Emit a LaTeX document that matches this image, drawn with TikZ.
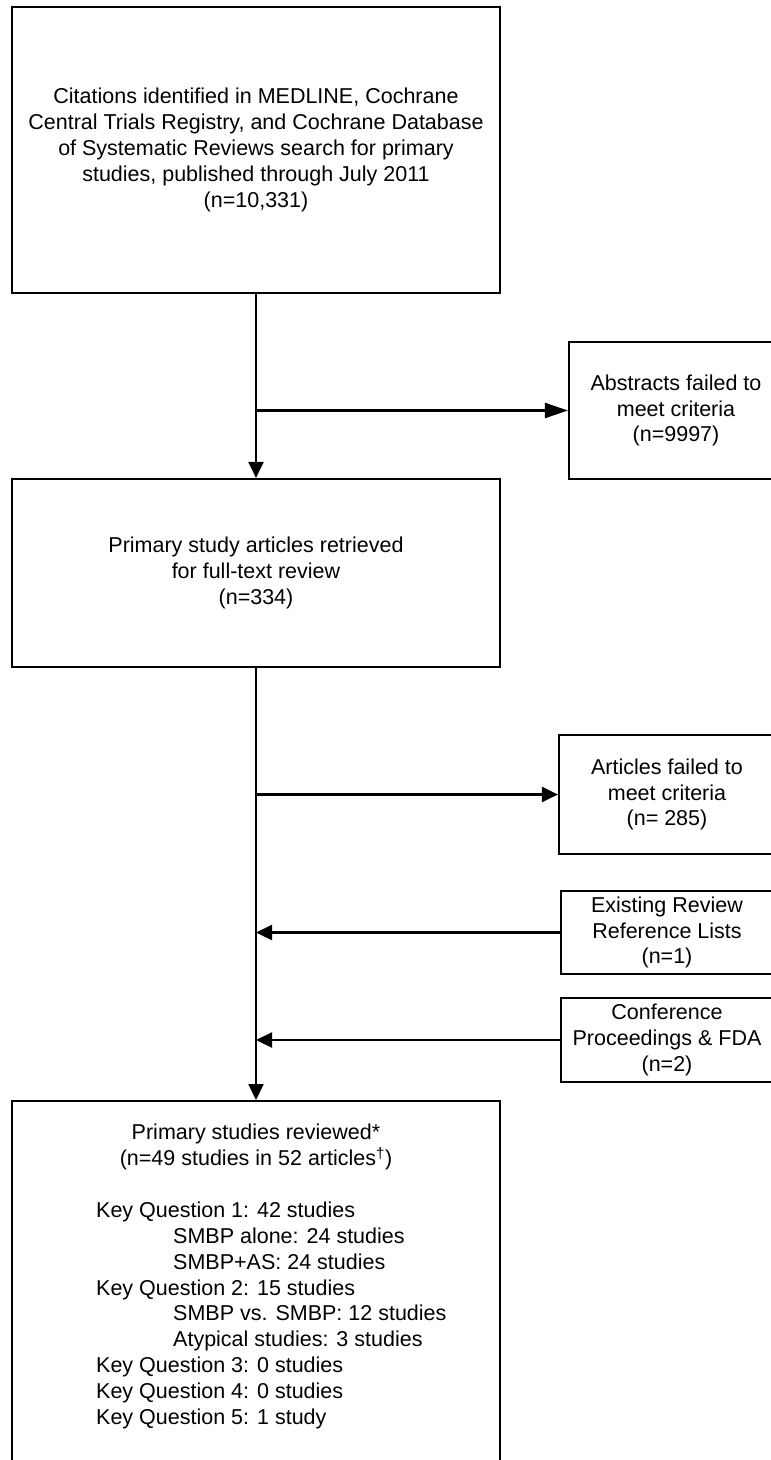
\documentclass[tikz,border=0pt]{standalone}
\usepackage{fontspec}
\setmainfont{Liberation Sans}
\usetikzlibrary{positioning,arrows.meta}

\begin{document}
\begin{tikzpicture}[x=1pt,y=1pt,on grid,
  every node/.style={font=\fontsize{21.5}{25.8}\selectfont,inner sep=0pt},
  box/.style={draw,line width=2.2pt,align=center},
  arr/.style={line width=2.2pt,-{Triangle[length=16pt,width=15pt]}},
  longarr/.style={line width=2.2pt,-{Triangle[length=23pt,width=15pt]}}]
\useasboundingbox (0,0) rectangle (771,-1460);
\node[box,minimum width=488pt,minimum height=286pt] (cite) at (256,-150) {Citations identified in MEDLINE, Cochrane\\Central Trials Registry, and Cochrane Database\\of Systematic Reviews search for primary\\studies, published through July 2011\\(n=10,331)};
\node[box,minimum width=488pt,minimum height=188pt] (ret) [below=423pt of cite] {Primary study articles retrieved\\for full-text review\\(n=334)};
\node[box,minimum width=488pt,minimum height=420pt] (rev) [below=950pt of cite,anchor=north] {};
\node[align=center] (revhead) [below=24pt of rev.north,anchor=north] {Primary studies reviewed*\\(n=49 studies in 52 articles\textsuperscript{\textdagger})};
\node[align=left,anchor=north west] (revlist) at (96,-1202) {Key Question 1: 42 studies\\
\hspace*{77pt}SMBP alone: 24 studies\\
\hspace*{77pt}SMBP+AS: 24 studies\\
Key Question 2: 15 studies\\
\hspace*{77pt}SMBP vs. SMBP: 12 studies\\
\hspace*{77pt}Atypical studies: 3 studies\\
Key Question 3: 0 studies\\
Key Question 4: 0 studies\\
Key Question 5: 1 study};
\node[box,minimum width=214pt,minimum height=137pt] (abs) [below right=260.5pt and 420pt of cite] {Abstracts failed to\\meet criteria\\(n=9997)};
\node[box,minimum width=216pt,minimum height=119pt] (art) [below right=221.5pt and 411pt of ret] {Articles failed to\\meet criteria\\(n= 285)};
\node[box,minimum width=212pt,minimum height=83pt] (exi) [below=138pt of art] {Existing Review\\Reference Lists\\(n=1)};
\node[box,minimum width=212pt,minimum height=84pt] (conf) [below=107.5pt of exi] {Conference\\Proceedings \& FDA\\(n=2)};
\coordinate (j1) at (cite.south |- abs.west);
\coordinate (j2) at (ret.south |- art.west);
\coordinate (j3) at (ret.south |- exi.west);
\coordinate (j4) at (ret.south |- conf.west);
\draw[arr] (cite) -- (ret);
\draw[arr] (ret) -- (rev);
\draw[longarr] (j1) -- (abs);
\draw[arr] (j2) -- (art);
\draw[arr] (exi) -- (j3);
\draw[arr] (conf) -- (j4);
\end{tikzpicture}
\end{document}
